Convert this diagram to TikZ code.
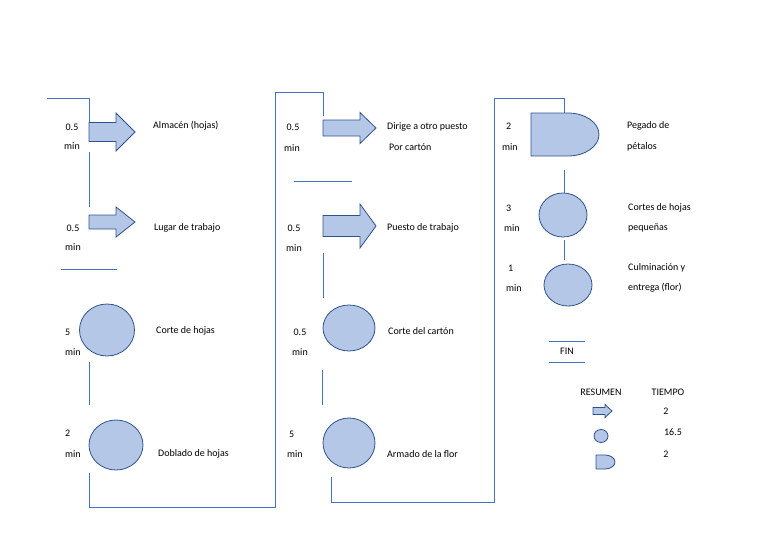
\documentclass[tikz,border=0pt]{standalone}
\usepackage{fontspec}
\setmainfont{Carlito}
\usetikzlibrary{shapes.geometric}
\definecolor{fillb}{HTML}{B4C7E7}
\definecolor{edgeb}{HTML}{2F528F}
\definecolor{lineb}{HTML}{4472C4}
\tikzset{
  conn/.style={draw=lineb, line width=0.8pt},
  shp/.style={draw=edgeb, fill=fillb, line width=0.8pt, line join=miter},
  proc/.style={shp, ellipse, inner sep=0pt},
  lbl/.style={anchor=west, inner sep=0pt, font=\fontsize{10}{12}\selectfont},
  num/.style={inner sep=0pt, font=\fontsize{10}{12}\selectfont}
}
% arrow: x0, xhead, xtip, yc, half body, half head
\newcommand{\flechaop}[6]{%
  \path[shp] (#1,#4-#5) -- (#2,#4-#5) -- (#2,#4-#6) -- (#3,#4) -- (#2,#4+#6) -- (#2,#4+#5) -- (#1,#4+#5) -- cycle;}
\begin{document}
\begin{tikzpicture}[x=1pt,y=-1pt]
\useasboundingbox (0,0) rectangle (768,543);

% ---------- column 1 ----------
\flechaop{89}{116}{135}{132}{9.5}{19}
\flechaop{89}{116}{135}{222}{7}{15}
\node[proc, minimum width=55, minimum height=52] (c1) at (107,330) {};
\node[proc, minimum width=54, minimum height=50] (c2) at (116,445) {};

\coordinate (a1) at (47,98);
\coordinate (a2) at (89,122);
\draw[conn] (a1) -- (89,98) -- (a2);
\coordinate (b1) at (89,152); \coordinate (b2) at (89,207);
\draw[conn] (b1) -- (b2);
\coordinate (s1) at (61,269); \coordinate (s2) at (117,269);
\draw[conn] (s1) -- (s2);
\coordinate (d1) at (89,362); \coordinate (d2) at (89,405);
\draw[conn] (d1) -- (d2);
\coordinate (e1) at (89,473); \coordinate (e2) at (323,116);
\draw[conn] (e1) -- (89,507) -- (275,507) -- (275,92) -- (323,92) -- (e2);

\node[num] (t1a) at (72,127) {0.5};
\node[num] (t1b) at (72,146) {min};
\node[lbl] (l1) at (153,126) {Almacén (hojas)};
\node[num] (t2a) at (73,228) {0.5};
\node[num] (t2b) at (73,247) {min};
\node[lbl] (l2) at (154,228) {Lugar de trabajo};
\node[lbl] (t3a) at (65,332) {5};
\node[lbl] (t3b) at (65,352) {min};
\node[lbl] (l3) at (156,331) {Corte de hojas};
\node[lbl] (t4a) at (65,433) {2};
\node[lbl] (t4b) at (65,454) {min};
\node[lbl] (l4) at (158,454) {Doblado de hojas};

% ---------- column 2 ----------
\flechaop{323}{360}{376}{128}{8}{15.5}
\flechaop{323}{360}{376}{226}{10.5}{22}
\node[proc, minimum width=52, minimum height=46] (c3) at (349,328) {};
\node[proc, minimum width=52, minimum height=50] (c4) at (349,443) {};

\coordinate (f1) at (294,181); \coordinate (f2) at (352,181);
\draw[conn] (f1) -- (f2);
\coordinate (g1) at (323,253); \coordinate (g2) at (323,298);
\draw[conn] (g1) -- (g2);
\coordinate (h1) at (322,370); \coordinate (h2) at (322,405);
\draw[conn] (h1) -- (h2);
\coordinate (k1) at (331,477); \coordinate (k2) at (564,113);
\draw[conn] (k1) -- (331,502) -- (494,502) -- (494,98) -- (564,98) -- (k2);

\node[num] (t5a) at (293,127) {0.5};
\node[num] (t5b) at (292,148) {min};
\node[lbl] (l5a) at (387,127) {Dirige a otro puesto};
\node[lbl] (l5b) at (389,147) {Por cartón};
\node[num] (t6a) at (294,228) {0.5};
\node[num] (t6b) at (294,248) {min};
\node[lbl] (l6) at (387,228) {Puesto de trabajo};
\node[num] (t7a) at (300,332) {0.5};
\node[num] (t7b) at (300,352) {min};
\node[lbl] (l7) at (388,331) {Corte del cartón};
\node[lbl] (t8a) at (289,434) {5};
\node[lbl] (t8b) at (287,454) {min};
\node[lbl] (l8) at (387,454) {Armado de la flor};

% ---------- column 3 ----------
\path[shp] (531,113) -- (568,113) arc[start angle=-90, end angle=90, x radius=31, y radius=21.5] -- (531,156) -- cycle;
\coordinate (dshape) at (565,134.5);
\node[proc, minimum width=48, minimum height=44] (c5) at (563,215) {};
\node[proc, minimum width=48, minimum height=42] (c6) at (568,285) {};

\coordinate (m1) at (564,170); \coordinate (m2) at (564,193);
\draw[conn] (m1) -- (m2);
\coordinate (n1) at (564,240); \coordinate (n2) at (564,260);
\draw[conn] (n1) -- (n2);

\node[lbl] (t9a) at (506,126) {2};
\node[lbl] (t9b) at (502,147) {min};
\node[lbl] (l9a) at (627,126) {Pegado de};
\node[lbl] (l9b) at (627,147) {pétalos};
\node[lbl] (t10a) at (506,208) {3};
\node[lbl] (t10b) at (504,228) {min};
\node[lbl] (l10a) at (628,208) {Cortes de hojas};
\node[lbl] (l10b) at (628,228) {pequeñas};
\node[lbl] (t11a) at (508,268) {1};
\node[lbl] (t11b) at (506,288) {min};
\node[lbl] (l11a) at (628,268) {Culminación y};
\node[lbl] (l11b) at (628,288) {entrega (flor)};

% ---------- FIN & summary ----------
\coordinate (p1) at (549,341); \coordinate (p2) at (585,341);
\coordinate (q1) at (549,362); \coordinate (q2) at (585,362);
\draw[conn] (p1) -- (p2);
\draw[conn] (q1) -- (q2);
\node[num] (fin) at (567,351) {FIN};

\node[num] (res) at (601,392) {RESUMEN};
\node[num] (tie) at (668,392) {TIEMPO};
\flechaop{593}{605}{612}{411}{3.5}{6.5}
\node[num] (v1) at (666,411) {2};
\node[proc, minimum width=14, minimum height=13] (sc) at (601,436) {};
\node[num] (v2) at (673,432) {16.5};
\path[shp] (596,455) -- (605,455) arc[start angle=-90, end angle=90, x radius=10, y radius=7] -- (596,469) -- cycle;
\node[num] (v3) at (666,454) {2};
\end{tikzpicture}
\end{document}
